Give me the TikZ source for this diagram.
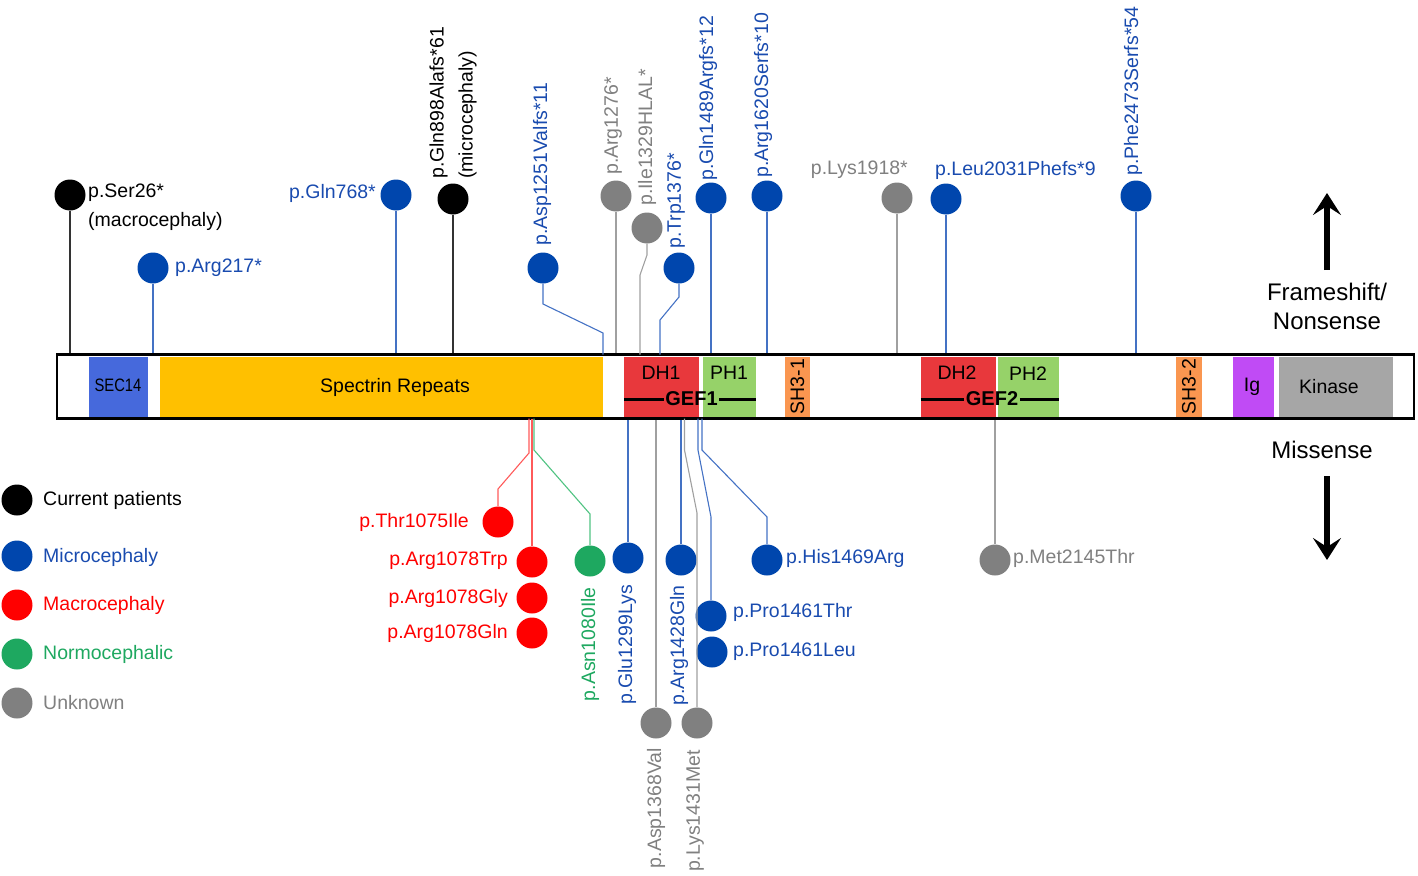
\documentclass[tikz,border=0pt]{standalone}
\usepackage{fontspec}
\setmainfont{Liberation Sans}
\usetikzlibrary{arrows.meta}
\definecolor{cblue}{RGB}{0,70,173}
\definecolor{tblue}{RGB}{25,75,175}
\definecolor{lblue}{RGB}{68,114,196}
\definecolor{cgray}{RGB}{128,128,128}
\definecolor{lgray}{RGB}{160,160,160}
\definecolor{cred}{RGB}{255,0,0}
\definecolor{lred}{RGB}{255,90,90}
\definecolor{cgreen}{RGB}{30,168,96}
\definecolor{lgreen}{RGB}{80,195,130}
\definecolor{secblue}{RGB}{70,105,220}
\definecolor{specyel}{RGB}{255,192,0}
\definecolor{dhred}{RGB}{232,56,60}
\definecolor{phgreen}{RGB}{150,210,105}
\definecolor{shorange}{RGB}{250,150,80}
\definecolor{igpurple}{RGB}{192,75,245}
\definecolor{kingray}{RGB}{166,166,166}
\begin{document}
\begin{tikzpicture}[x=1pt,y=-1pt,
 dot/.style={circle, inner sep=0, minimum size=31pt},
 lab/.style={inner sep=0, font=\fontsize{19.5}{29}\selectfont},
 big/.style={inner sep=0, font=\fontsize{24}{29}\selectfont, align=center},
 gef/.style={inner sep=1.5pt, font=\bfseries\fontsize{20}{24}\selectfont},
 gefline/.style={line width=3pt},
 dom/.style={inner sep=0, minimum height=60pt},
 lk/.style={line width=1.1pt},
 bigarrow/.style={line width=5.5pt, -{Stealth[length=22pt,width=28pt,inset=9pt]}},
]
\useasboundingbox (0,0) rectangle (1418,875);

% ---------- protein bar ----------
\node[draw, line width=2.5pt, fill=white, minimum width=1357pt, minimum height=64pt, inner sep=0] (bar) at (735.5,386.5) {};
\node[dom, fill=secblue, minimum width=59pt] (sec) at (118.5,386.5) {};
\node[lab, font=\fontsize{18}{20}\selectfont] at (118,385) {\addfontfeature{FakeStretch=0.82}SEC14};
\node[dom, fill=specyel, minimum width=443pt] (spec) at (381.5,386.5) {};
\node[lab] at (395,387) {Spectrin Repeats};
\node[dom, fill=dhred, minimum width=75pt] (dh1) at (661.5,386.5) {};
\node[lab] at (661,373) {DH1};
\node[dom, fill=phgreen, minimum width=53pt] (ph1) at (729.5,386.5) {};
\node[lab] at (729,373) {PH1};
\node[gef] (gef1) at (691.5,399) {GEF1};
\draw[gefline] (dh1.west |- gef1) -- (gef1.west);
\draw[gefline] (gef1.east) -- (ph1.east |- gef1);
\node[dom, fill=shorange, minimum width=25pt] (sh31) at (797.5,386.5) {};
\node[lab, rotate=90] at (797.5,386.5) {SH3-1};
\node[dom, fill=dhred, minimum width=75pt] (dh2) at (958.5,386.5) {};
\node[lab] at (957,373) {DH2};
\node[dom, fill=phgreen, minimum width=61pt] (ph2) at (1028.5,386.5) {};
\node[lab] at (1028,374) {PH2};
\node[gef] (gef2) at (992,399) {GEF2};
\draw[gefline] (dh2.west |- gef2) -- (gef2.west);
\draw[gefline] (gef2.east) -- (ph2.east |- gef2);
\node[dom, fill=shorange, minimum width=26pt] (sh32) at (1189,386.5) {};
\node[lab, rotate=90] at (1189,386.5) {SH3-2};
\node[dom, fill=igpurple, minimum width=41pt] (ig) at (1253.5,386.5) {};
\node[lab] at (1252,387) {Ig};
\node[dom, fill=kingray, minimum width=114pt] (kin) at (1336,386.5) {};
\node[lab] at (1329,387) {Kinase};

% ---------- frameshift / nonsense (top) ----------
\node[dot, fill=black] (ser) at (70,195) {};
\node[dot, fill=cblue] (arg217) at (153,268) {};
\node[dot, fill=cblue] (gln768) at (396,195) {};
\node[dot, fill=black] (gln898) at (453,199) {};
\node[dot, fill=cblue] (asp1251) at (543,268) {};
\node[dot, fill=cgray] (arg1276) at (616,196) {};
\node[dot, fill=cgray] (ile1329) at (647,228) {};
\node[dot, fill=cblue] (trp1376) at (679,268) {};
\node[dot, fill=cblue] (gln1489) at (711,198) {};
\node[dot, fill=cblue] (arg1620) at (767,196) {};
\node[dot, fill=cgray] (lys1918) at (897,198) {};
\node[dot, fill=cblue] (leu2031) at (946,199) {};
\node[dot, fill=cblue] (phe2473) at (1136,196) {};

\draw[lk, black!80] (ser) -- (ser |- bar.north);
\draw[lk, lblue] (arg217) -- (arg217 |- bar.north);
\draw[lk, lblue] (gln768) -- (gln768 |- bar.north);
\draw[lk, black!80] (gln898) -- (gln898 |- bar.north);
\coordinate (b1251) at (603,354.5);
\draw[lk, lblue] (asp1251) -- (543,304) -- (603,333) -- (b1251);
\draw[lk, lgray] (arg1276) -- (arg1276 |- bar.north);
\coordinate (b1329) at (640,354.5);
\draw[lk, lgray] (ile1329) -- (647,255) -- (640,275) -- (b1329);
\coordinate (b1376) at (660,354.5);
\draw[lk, lblue] (trp1376) -- (679,297) -- (660,320) -- (b1376);
\draw[lk, lblue] (gln1489) -- (gln1489 |- bar.north);
\draw[lk, lblue] (arg1620) -- (arg1620 |- bar.north);
\draw[lk, lgray] (lys1918) -- (lys1918 |- bar.north);
\draw[lk, lblue] (leu2031) -- (leu2031 |- bar.north);
\draw[lk, lblue] (phe2473) -- (phe2473 |- bar.north);

\node[lab, anchor=west, align=left] at (88,207.5) {p.Ser26*\\(macrocephaly)};
\node[lab, anchor=west, text=tblue] at (175,268) {p.Arg217*};
\node[lab, anchor=east, text=tblue] at (376,193) {p.Gln768*};
\node[lab, anchor=west, align=left, rotate=90] at (453,179) {p.Gln898Alafs*61\\(microcephaly)};
\node[lab, anchor=west, rotate=90, text=tblue] at (542,246) {p.Asp1251Valfs*11};
\node[lab, anchor=west, rotate=90, text=cgray] at (613,175) {p.Arg1276*};
\node[lab, anchor=west, rotate=90, text=cgray] at (647,206) {p.Ile1329HLAL*};
\node[lab, anchor=west, rotate=90, text=tblue] at (676,249) {p.Trp1376*};
\node[lab, anchor=west, rotate=90, text=tblue] at (708,181) {p.Gln1489Argfs*12};
\node[lab, anchor=west, rotate=90, text=tblue] at (763,178) {p.Arg1620Serfs*10};
\node[lab, anchor=east, text=cgray] at (908,170) {p.Lys1918*};
\node[lab, anchor=west, text=tblue] at (935,170) {p.Leu2031Phefs*9};
\node[lab, anchor=west, rotate=90, text=tblue] at (1133,176) {p.Phe2473Serfs*54};

% ---------- missense (bottom) ----------
\node[dot, fill=cred] (thr1075) at (498,522) {};
\node[dot, fill=cred] (arg1078w) at (532,562) {};
\node[dot, fill=cred] (arg1078g) at (532,598) {};
\node[dot, fill=cred] (arg1078q) at (532,633) {};
\node[dot, fill=cgreen] (asn1080) at (590,561) {};
\node[dot, fill=cblue] (glu1299) at (628,558) {};
\node[dot, fill=cgray] (asp1368) at (656,723) {};
\node[dot, fill=cblue] (arg1428) at (681,560) {};
\node[dot, fill=cgray] (lys1431) at (697,723) {};
\node[dot, fill=cblue] (pro1461t) at (711,616) {};
\node[dot, fill=cblue] (pro1461l) at (712,652) {};
\node[dot, fill=cblue] (his1469) at (767,560) {};
\node[dot, fill=cgray] (met2145) at (995,560) {};

\coordinate (b1075) at (529,418.5);
\draw[lk, lred] (b1075) -- (529,453) -- (498,489) -- (thr1075);
\coordinate (b1078) at (532,418.5);
\draw[lk, lred] (b1078) -- (arg1078w);
\coordinate (b1080) at (534,418.5);
\draw[lk, lgreen] (b1080) -- (534,450) -- (590,514) -- (asn1080);
\draw[lk, lblue] (glu1299 |- bar.south) -- (glu1299);
\draw[lk, lgray] (asp1368 |- bar.south) -- (asp1368);
\draw[lk, lblue] (arg1428 |- bar.south) -- (arg1428);
\coordinate (b1431) at (684.5,418.5);
\draw[lk, lgray] (b1431) -- (684.5,450) -- (697,513) -- (lys1431);
\coordinate (b1461) at (698,418.5);
\draw[lk, lblue] (b1461) -- (698,450) -- (711,517) -- (pro1461t);
\coordinate (b1469) at (702,418.5);
\draw[lk, lblue] (b1469) -- (702,450) -- (767,517) -- (his1469);
\draw[lk, lgray] (met2145 |- bar.south) -- (met2145);

\node[lab, anchor=east, text=cred] at (469,522) {p.Thr1075Ile};
\node[lab, anchor=east, text=cred] at (508,561) {p.Arg1078Trp};
\node[lab, anchor=east, text=cred] at (508,598) {p.Arg1078Gly};
\node[lab, anchor=east, text=cred] at (508,633) {p.Arg1078Gln};
\node[lab, anchor=east, rotate=90, text=cgreen] at (590,587) {p.Asn1080Ile};
\node[lab, anchor=east, rotate=90, text=tblue] at (627,585) {p.Glu1299Lys};
\node[lab, anchor=east, rotate=90, text=cgray] at (656,748) {p.Asp1368Val};
\node[lab, anchor=east, rotate=90, text=tblue] at (679,585) {p.Arg1428Gln};
\node[lab, anchor=east, rotate=90, text=cgray] at (695,750) {p.Lys1431Met};
\node[lab, anchor=west, text=tblue] at (733,612) {p.Pro1461Thr};
\node[lab, anchor=west, text=tblue] at (733,652) {p.Pro1461Leu};
\node[lab, anchor=west, text=tblue] at (786,558) {p.His1469Arg};
\node[lab, anchor=west, text=cgray] at (1013,558) {p.Met2145Thr};

% ---------- arrows ----------
\coordinate (upa) at (1327,270);
\coordinate (upb) at (1327,193);
\draw[bigarrow] (upa) -- (upb);
\node[big] at (1327,306) {Frameshift/\\Nonsense};
\node[big] at (1322,450) {Missense};
\coordinate (dna) at (1327,476);
\coordinate (dnb) at (1327,560);
\draw[bigarrow] (dna) -- (dnb);

% ---------- legend ----------
\node[dot, fill=black] (lg1) at (17,500) {};
\node[dot, fill=cblue] (lg2) at (17,556) {};
\node[dot, fill=cred] (lg3) at (17,605) {};
\node[dot, fill=cgreen] (lg4) at (17,654) {};
\node[dot, fill=cgray] (lg5) at (17,703) {};
\node[lab, anchor=west] at (43,500) {Current patients};
\node[lab, anchor=west, text=tblue] at (43,557) {Microcephaly};
\node[lab, anchor=west, text=cred] at (43,605) {Macrocephaly};
\node[lab, anchor=west, text=cgreen] at (43,654) {Normocephalic};
\node[lab, anchor=west, text=cgray] at (43,703) {Unknown};
\end{tikzpicture}
\end{document}
